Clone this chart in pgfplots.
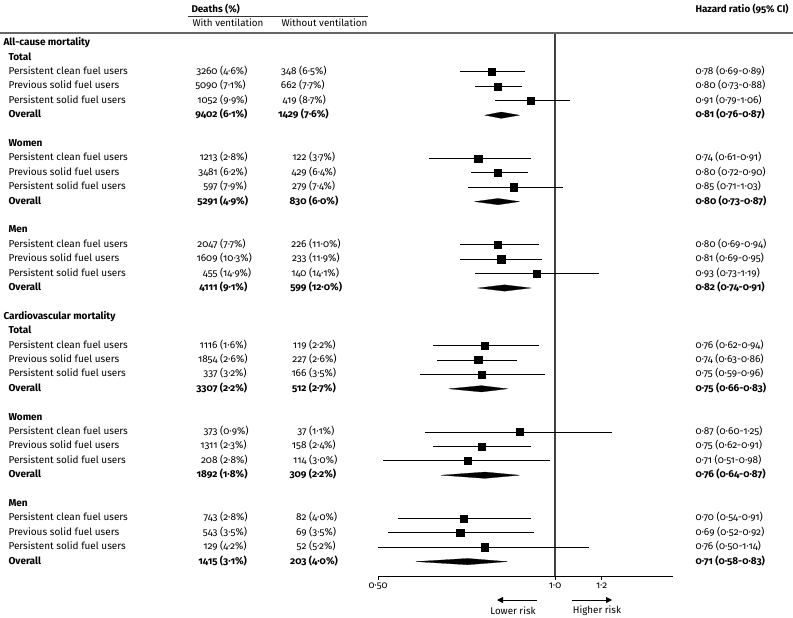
\documentclass[border=0pt]{standalone}
\usepackage{fontspec}
\setmainfont{Fira Sans}[Numbers=OldStyle]
\usepackage{pgfplots}
\usepackage{pgfplotstable}
\pgfplotsset{compat=1.18}
\usetikzlibrary{arrows.meta}

% hazard ratios per group, row = line number below "All-cause mortality"
\pgfplotstableread{
row hr lo hi
2 0.78 0.69 0.89
3 0.80 0.73 0.88
4 0.91 0.79 1.06
8 0.74 0.61 0.91
9 0.80 0.72 0.90
10 0.85 0.71 1.03
14 0.80 0.69 0.94
15 0.81 0.69 0.95
16 0.93 0.73 1.19
21 0.76 0.62 0.94
22 0.74 0.63 0.86
23 0.75 0.59 0.96
27 0.87 0.60 1.25
28 0.75 0.62 0.91
29 0.71 0.51 0.98
33 0.70 0.54 0.91
34 0.69 0.52 0.92
35 0.76 0.50 1.14
}\studies

% pooled estimate as a diamond: lo, hr, hi, row
\newcommand\dmd[4]{%
  \pgfmathsetmacro\ya{-#4+0.22}\pgfmathsetmacro\yb{-#4-0.22}%
  \addplot[fill=black, draw=black, line width=0.2pt] coordinates {(#1,-#4) (#2,\ya) (#3,-#4) (#2,\yb)} -- cycle;
}

% text of one row: [font] row, label, with n, with %, without n, without %, HR text, right edge of "without" counts
\newcommand\datarow[9][]{%
  \node[anchor=mid west, font=#1] at (5,#2) {#3};
  \node[anchor=mid west, font=#1] at (214,#2) {\llap{#4} (#5\%)};
  \node[anchor=mid west, font=#1] at (#9,#2) {\llap{#6} (#7\%)};
  \node[anchor=mid west, font=#1] at (692,#2) {#8};
}

\begin{document}
\begin{tikzpicture}[font=\fontsize{9.8}{11}\selectfont]
\useasboundingbox (0,0) rectangle (793pt,-618pt);

\begin{axis}[
  at={(378pt,-576pt)}, anchor=south west,
  scale only axis, width=295pt, height=542.8pt,
  xmode=log, xmin=0.5, xmax=1.587, ymin=-37, ymax=0.694,
  axis x line*=bottom, axis y line=none,
  xtick={0.5,1,1.2}, xticklabels={0·50,1·0,1·2}, minor xtick={},
  tick align=outside, major tick length=4pt,
  tick style={black, line width=0.8pt},
  axis line style={black, line width=0.9pt},
  xticklabel style={font=\fontsize{9.8}{11}\selectfont, yshift=1pt},
  clip=false,
]
\addplot[black!75, line width=1.2pt] coordinates {(1,-37) (1,0.694)};
\addplot[only marks, mark=square*, mark size=3.6pt, black,
  mark options={draw=black, fill=black},
  error bars/.cd, x dir=both, x explicit, error mark=none,
  error bar style={line width=1pt, black}]
  table[x=hr, y expr=-\thisrow{row},
        x error minus expr=\thisrow{hr}-\thisrow{lo},
        x error plus expr=\thisrow{hi}-\thisrow{hr}] {\studies};
\dmd{0.76}{0.81}{0.87}{5}
\dmd{0.73}{0.80}{0.87}{11}
\dmd{0.74}{0.82}{0.91}{17}
\dmd{0.66}{0.75}{0.83}{24}
\dmd{0.64}{0.76}{0.87}{30}
\dmd{0.58}{0.71}{0.83}{36}
\end{axis}

% column headers
\node[anchor=mid west, font=\fontsize{9.8}{11}\selectfont\bfseries] at (188pt,-10pt) {Deaths (\%)};
\draw[black!80, line width=0.8pt] (188pt,-16pt) -- (368pt,-16pt);
\node[anchor=mid west] at (189pt,-24pt) {With ventilation};
\node[anchor=mid west] at (278pt,-24pt) {Without ventilation};
\node[anchor=mid west, font=\fontsize{9.8}{11}\selectfont\bfseries] at (692pt,-10pt) {Hazard ratio (95\% CI)};
\draw[black!60, line width=1.2pt] (0pt,-33pt) -- (793pt,-33pt);

\begin{scope}[x=1pt, y=-14.4pt, yshift=-43pt]
\node[anchor=mid west, font=\bfseries] at (0,0) {All-cause mortality};
\node[anchor=mid west, font=\bfseries] at (5,1) {Total};
\datarow{2}{Persistent clean fuel users}{3260}{4·6}{348}{6·5}{0·78 (0·69-0·89)}{293}
\datarow{3}{Previous solid fuel users}{5090}{7·1}{662}{7·7}{0·80 (0·73-0·88)}{293}
\datarow{4}{Persistent solid fuel users}{1052}{9·9}{419}{8·7}{0·91 (0·79-1·06)}{293}
\datarow[\bfseries]{5}{Overall}{9402}{6·1}{1429}{7·6}{0·81 (0·76-0·87)}{295}
\node[anchor=mid west, font=\bfseries] at (5,7) {Women};
\datarow{8}{Persistent clean fuel users}{1213}{2·8}{122}{3·7}{0·74 (0·61-0·91)}{303}
\datarow{9}{Previous solid fuel users}{3481}{6·2}{429}{6·4}{0·80 (0·72-0·90)}{303}
\datarow{10}{Persistent solid fuel users}{597}{7·9}{279}{7·4}{0·85 (0·71-1·03)}{303}
\datarow[\bfseries]{11}{Overall}{5291}{4·9}{830}{6·0}{0·80 (0·73-0·87)}{303}
\node[anchor=mid west, font=\bfseries] at (5,13) {Men};
\datarow{14}{Persistent clean fuel users}{2047}{7·7}{226}{11·0}{0·80 (0·69-0·94)}{303}
\datarow{15}{Previous solid fuel users}{1609}{10·3}{233}{11·9}{0·81 (0·69-0·95)}{303}
\datarow{16}{Persistent solid fuel users}{455}{14·9}{140}{14·1}{0·93 (0·73-1·19)}{303}
\datarow[\bfseries]{17}{Overall}{4111}{9·1}{599}{12·0}{0·82 (0·74-0·91)}{303}
\node[anchor=mid west, font=\bfseries] at (0,19) {Cardiovascular mortality};
\node[anchor=mid west, font=\bfseries] at (5,20) {Total};
\datarow{21}{Persistent clean fuel users}{1116}{1·6}{119}{2·2}{0·76 (0·62-0·94)}{303}
\datarow{22}{Previous solid fuel users}{1854}{2·6}{227}{2·6}{0·74 (0·63-0·86)}{303}
\datarow{23}{Persistent solid fuel users}{337}{3·2}{166}{3·5}{0·75 (0·59-0·96)}{303}
\datarow[\bfseries]{24}{Overall}{3307}{2·2}{512}{2·7}{0·75 (0·66-0·83)}{303}
\node[anchor=mid west, font=\bfseries] at (5,26) {Women};
\datarow{27}{Persistent clean fuel users}{373}{0·9}{37}{1·1}{0·87 (0·60-1·25)}{303}
\datarow{28}{Previous solid fuel users}{1311}{2·3}{158}{2·4}{0·75 (0·62-0·91)}{303}
\datarow{29}{Persistent solid fuel users}{208}{2·8}{114}{3·0}{0·71 (0·51-0·98)}{303}
\datarow[\bfseries]{30}{Overall}{1892}{1·8}{309}{2·2}{0·76 (0·64-0·87)}{303}
\node[anchor=mid west, font=\bfseries] at (5,32) {Men};
\datarow{33}{Persistent clean fuel users}{743}{2·8}{82}{4·0}{0·70 (0·54-0·91)}{303}
\datarow{34}{Previous solid fuel users}{543}{3·5}{69}{3·5}{0·69 (0·52-0·92)}{303}
\datarow{35}{Persistent solid fuel users}{129}{4·2}{52}{5·2}{0·76 (0·50-1·14)}{303}
\datarow[\bfseries]{36}{Overall}{1415}{3·1}{203}{4·0}{0·71 (0·58-0·83)}{303}
\end{scope}

% direction of effect
\draw[-{Triangle[length=6pt,width=6pt]}, line width=0.9pt] (537pt,-600pt) -- (497pt,-600pt);
\draw[-{Triangle[length=6pt,width=6pt]}, line width=0.9pt] (572pt,-600pt) -- (612pt,-600pt);
\node at (513pt,-611pt) {Lower risk};
\node at (597pt,-611pt) {Higher risk};
\end{tikzpicture}
\end{document}
